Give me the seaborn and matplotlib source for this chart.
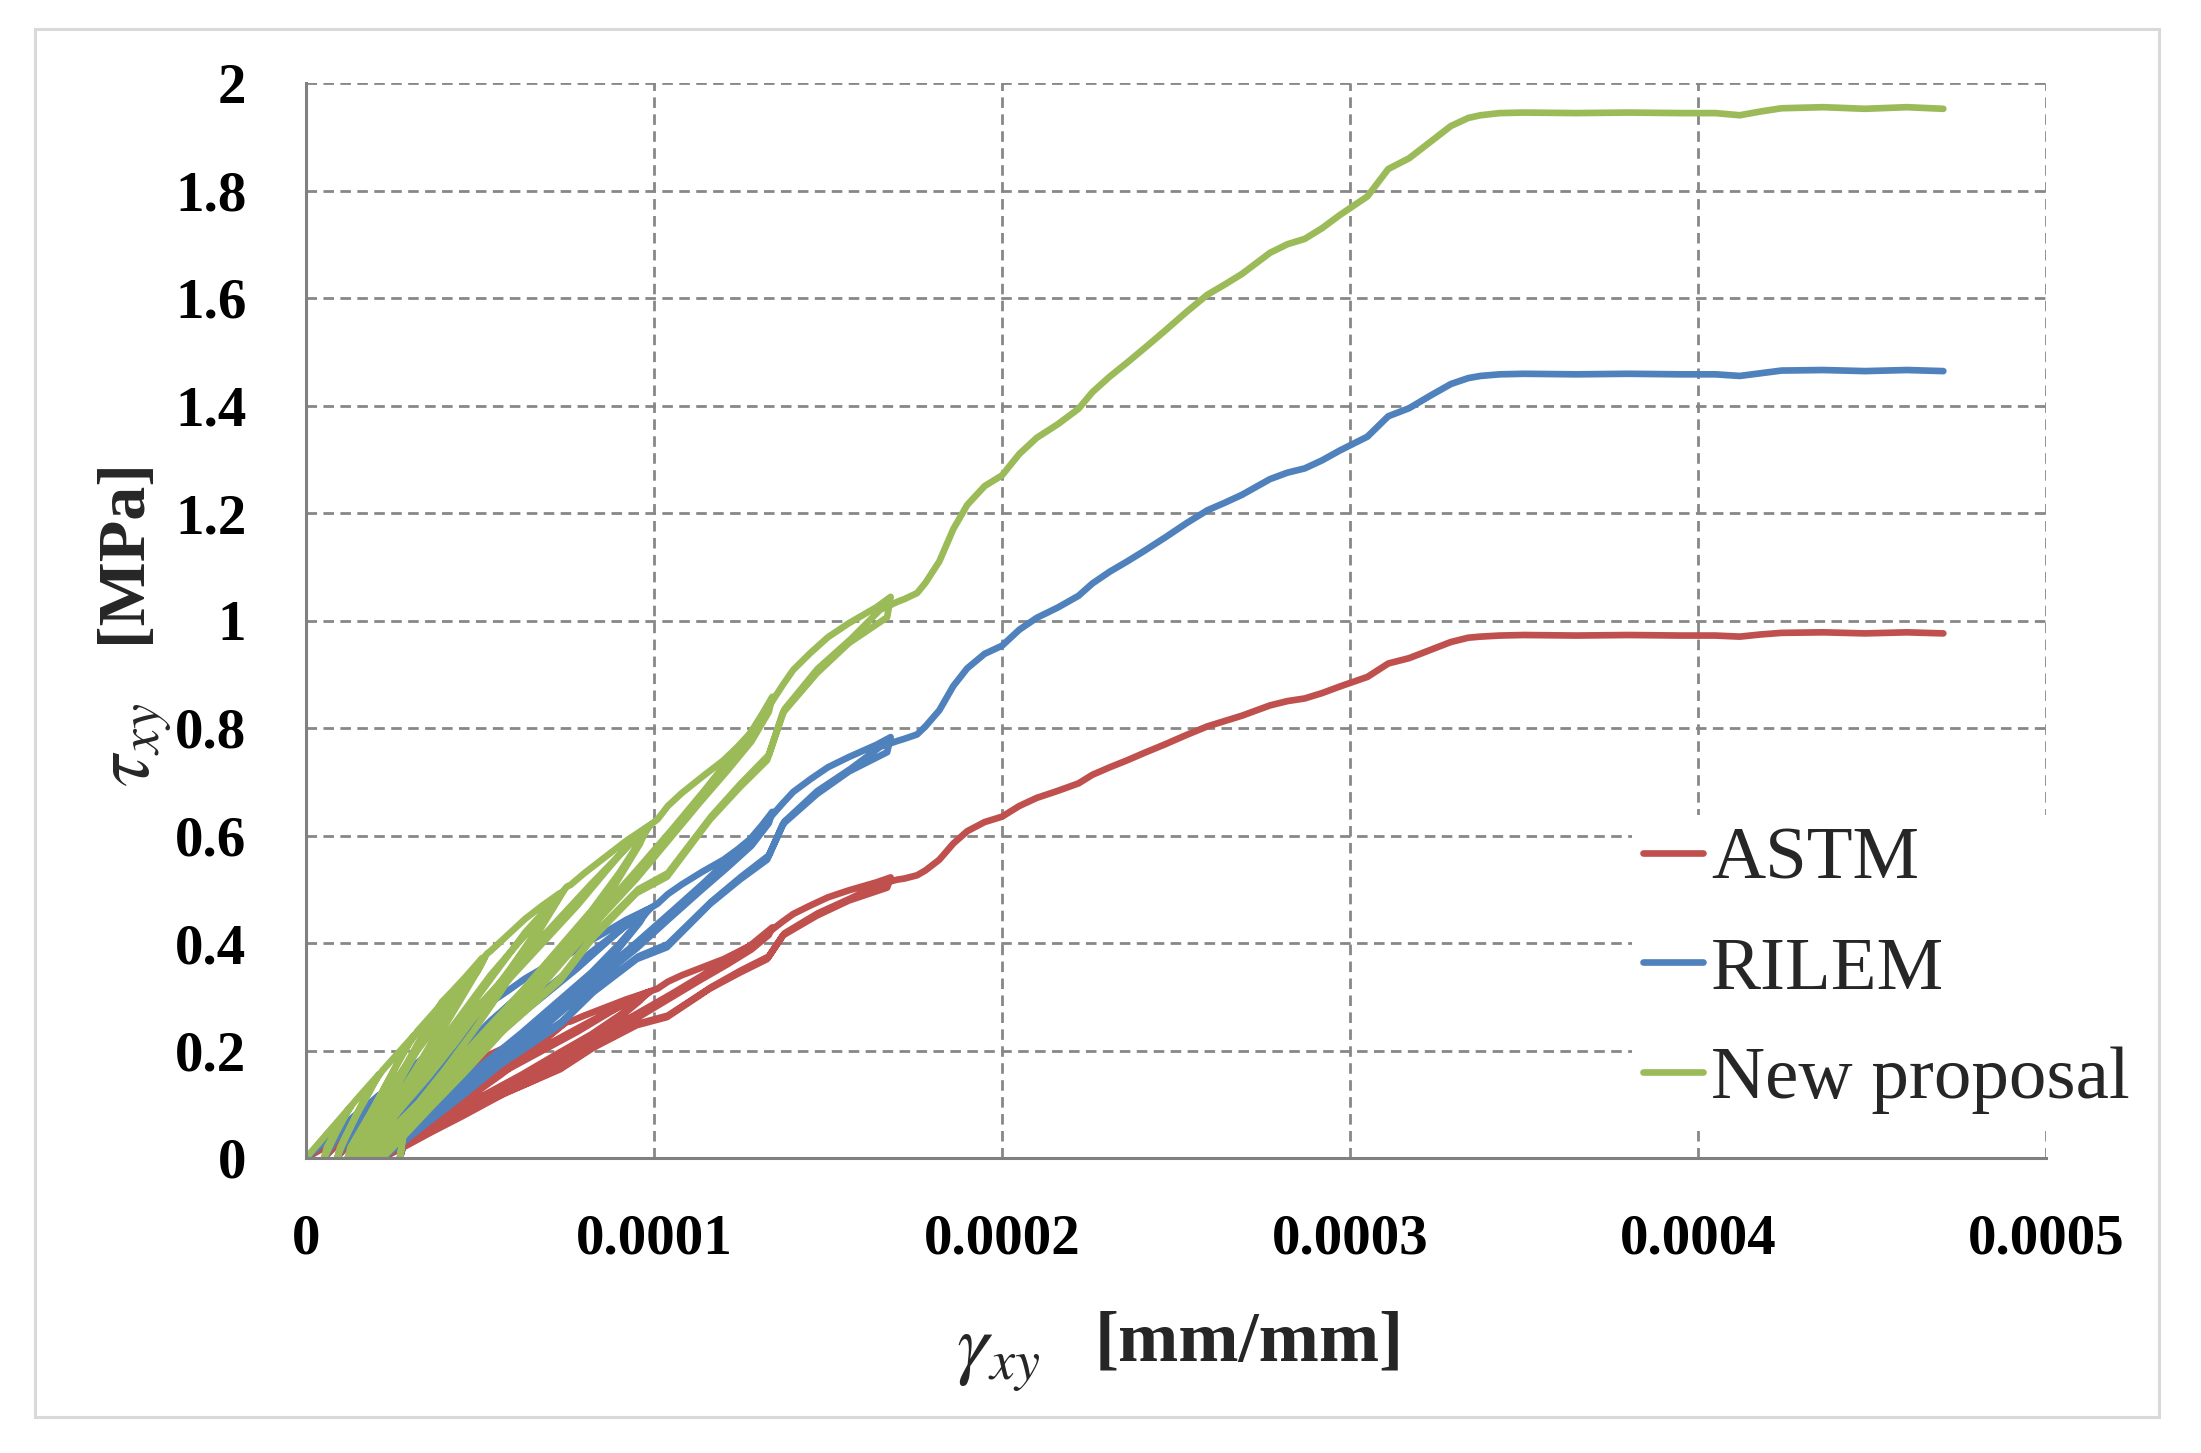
import numpy as np
import pandas as pd
import matplotlib
matplotlib.use('Agg')
import matplotlib.pyplot as plt
import seaborn as sns
from matplotlib.patches import Rectangle
from matplotlib.lines import Line2D

# ---------------- data ----------------
series_names = ['ASTM', 'RILEM', 'New proposal']
series_colors = ['#C0504D', '#4F81BD', '#9BBB59']

# shear strain in micro-strain (x 1e-6 mm/mm), shared by the three series
gamma_ue = [
    0, 6, 13,
    11, 8.5, 6.5, 5.2,
    6, 8.5, 11.5, 14, 17, 21,
    18, 14.5, 11.5, 9.6, 9,
    9.8, 12.5, 16, 19.5, 22, 26, 31,
    27, 22.5, 18, 14, 12,
    12.8, 15.5, 20, 25, 29.5, 32, 36, 41,
    37, 31, 25, 19, 15.5, 14,
    14.8, 17, 22, 28, 34, 39, 42, 46, 50.6,
    49.5, 44, 37, 30, 23, 18, 16,
    16.5, 19, 24, 31, 38, 45, 50, 51.5,
    49, 43, 36, 29, 22, 17, 14.5, 14.2,
    15, 19, 25, 32, 39, 46, 52, 53, 58, 63, 68, 73,
    71, 64, 56, 48, 40, 32, 24, 19, 17.5,
    18, 21, 27, 35, 43, 51, 59, 66, 72, 74,
    70, 63, 55, 47, 39, 31, 24, 18.5, 16.8,
    17.5, 22, 29, 37, 45, 53, 61, 68, 75, 76, 80, 86, 92, 98,
    96, 88, 79, 70, 60, 50, 40, 31, 24, 20,
    20.5, 24, 32, 42, 52, 62, 72, 82, 90, 97, 99,
    95, 87, 78, 68, 58, 48, 38, 29, 22, 18.5, 18.3,
    19, 24, 32, 42, 52, 62, 72, 82, 91, 98, 101, 104, 108, 114, 120, 124, 127.6, 131, 134,
    133, 128, 121, 113, 104, 95, 85, 75, 65, 55, 45, 36, 28, 23.5, 22,
    22.5, 26, 34, 44, 54, 64, 74, 84, 95, 105, 114, 122, 129, 134, 137, 140, 145, 150, 156, 164, 168,
    167, 156, 146.8, 137, 132.5, 124.7, 116, 103.7, 95, 82.5, 73, 63.4, 55.7, 48, 39.5, 32.8, 28, 27,
    28, 33, 40, 48.5, 56, 64, 73.5, 83, 95.5, 104, 116.5, 125, 133, 137.5, 147, 156.5, 165, 170,
    172, 175.6, 178, 182, 186, 190, 195, 200, 205, 210, 216, 222, 226, 231, 236, 241, 247, 253, 259, 264,
    269, 277, 282, 287, 292, 297, 305, 311, 317, 323, 329, 334, 337.5, 343, 350, 365, 380, 395, 405, 412,
    418, 424, 436, 448, 460, 470.5,
]

tau_new = [
    0, 0.045, 0.097,
    0.075, 0.045, 0.018, 0,
    0.02, 0.05, 0.085, 0.105, 0.127, 0.156,
    0.12, 0.08, 0.04, 0.012, 0,
    0.02, 0.055, 0.1, 0.14, 0.163, 0.192, 0.228,
    0.185, 0.13, 0.075, 0.03, 0,
    0.02, 0.05, 0.1, 0.16, 0.212, 0.236, 0.265, 0.302,
    0.26, 0.19, 0.12, 0.055, 0.015, 0,
    0.02, 0.045, 0.1, 0.165, 0.235, 0.29, 0.31, 0.338, 0.372,
    0.35, 0.29, 0.215, 0.14, 0.07, 0.025, 0,
    0.02, 0.045, 0.09, 0.16, 0.235, 0.31, 0.355, 0.375,
    0.345, 0.3, 0.24, 0.175, 0.11, 0.05, 0.01, 0,
    0.03, 0.08, 0.135, 0.2, 0.26, 0.325, 0.38, 0.385, 0.415, 0.445, 0.47, 0.493,
    0.465, 0.39, 0.31, 0.235, 0.165, 0.1, 0.045, 0.012, 0,
    0.02, 0.045, 0.09, 0.15, 0.215, 0.285, 0.355, 0.42, 0.475, 0.497,
    0.47, 0.42, 0.35, 0.28, 0.21, 0.14, 0.075, 0.02, 0,
    0.03, 0.08, 0.135, 0.2, 0.27, 0.34, 0.4, 0.45, 0.505, 0.508, 0.53, 0.56, 0.59, 0.616,
    0.585, 0.5, 0.42, 0.345, 0.27, 0.2, 0.13, 0.07, 0.025, 0,
    0.02, 0.05, 0.1, 0.17, 0.24, 0.31, 0.385, 0.46, 0.53, 0.6, 0.62,
    0.6, 0.54, 0.47, 0.4, 0.33, 0.26, 0.185, 0.11, 0.045, 0.005, 0,
    0.03, 0.08, 0.15, 0.23, 0.3, 0.37, 0.44, 0.51, 0.57, 0.615, 0.63, 0.655, 0.679, 0.71, 0.74, 0.765, 0.79, 0.825, 0.858,
    0.83, 0.775, 0.72, 0.66, 0.59, 0.52, 0.45, 0.375, 0.3, 0.225, 0.155, 0.095, 0.04, 0.01, 0,
    0.02, 0.05, 0.1, 0.17, 0.24, 0.31, 0.385, 0.455, 0.535, 0.61, 0.68, 0.745, 0.8, 0.85, 0.88, 0.908, 0.94, 0.969, 0.995, 1.025, 1.044,
    1.006, 0.958, 0.902, 0.828, 0.74, 0.69, 0.629, 0.523, 0.493, 0.41, 0.33, 0.275, 0.231, 0.188, 0.132, 0.082, 0.045, 0,
    0.05, 0.085, 0.135, 0.192, 0.235, 0.28, 0.338, 0.418, 0.5, 0.53, 0.636, 0.697, 0.75, 0.835, 0.91, 0.965, 1.02, 1.035,
    1.04, 1.051, 1.07, 1.11, 1.17, 1.215, 1.25, 1.27, 1.31, 1.34, 1.365, 1.394, 1.425, 1.454, 1.48, 1.507, 1.54, 1.574, 1.606, 1.625,
    1.645, 1.684, 1.7, 1.71, 1.73, 1.754, 1.789, 1.84, 1.86, 1.89, 1.92, 1.935, 1.94, 1.944, 1.945, 1.944, 1.945, 1.944, 1.944, 1.94,
    1.947, 1.953, 1.955, 1.952, 1.955, 1.952,
]

tau_rilem = [
    0, 0.034, 0.073,
    0.056, 0.034, 0.014, 0,
    0.015, 0.038, 0.064, 0.079, 0.095, 0.117,
    0.09, 0.06, 0.03, 0.009, 0,
    0.015, 0.041, 0.075, 0.105, 0.122, 0.144, 0.171,
    0.139, 0.098, 0.056, 0.023, 0,
    0.015, 0.038, 0.075, 0.12, 0.159, 0.177, 0.199, 0.227,
    0.195, 0.143, 0.09, 0.041, 0.011, 0,
    0.015, 0.034, 0.075, 0.124, 0.176, 0.218, 0.233, 0.254, 0.279,
    0.263, 0.218, 0.161, 0.105, 0.053, 0.019, 0,
    0.015, 0.034, 0.068, 0.12, 0.176, 0.233, 0.266, 0.281,
    0.259, 0.225, 0.18, 0.131, 0.083, 0.038, 0.008, 0,
    0.023, 0.06, 0.101, 0.15, 0.195, 0.244, 0.285, 0.289, 0.311, 0.334, 0.353, 0.37,
    0.349, 0.293, 0.233, 0.176, 0.124, 0.075, 0.034, 0.009, 0,
    0.015, 0.034, 0.068, 0.113, 0.161, 0.214, 0.266, 0.315, 0.356, 0.373,
    0.353, 0.315, 0.263, 0.21, 0.158, 0.105, 0.056, 0.015, 0,
    0.023, 0.06, 0.101, 0.15, 0.203, 0.255, 0.3, 0.338, 0.379, 0.381, 0.398, 0.42, 0.443, 0.462,
    0.439, 0.375, 0.315, 0.259, 0.203, 0.15, 0.098, 0.053, 0.019, 0,
    0.015, 0.038, 0.075, 0.128, 0.18, 0.233, 0.289, 0.345, 0.398, 0.45, 0.465,
    0.45, 0.405, 0.353, 0.3, 0.248, 0.195, 0.139, 0.083, 0.034, 0.004, 0,
    0.023, 0.06, 0.113, 0.173, 0.225, 0.278, 0.33, 0.383, 0.428, 0.461, 0.473, 0.491, 0.509, 0.533, 0.555, 0.574, 0.593, 0.619, 0.644,
    0.623, 0.581, 0.54, 0.495, 0.443, 0.39, 0.338, 0.281, 0.225, 0.169, 0.116, 0.071, 0.03, 0.008, 0,
    0.015, 0.038, 0.075, 0.128, 0.18, 0.233, 0.289, 0.341, 0.401, 0.458, 0.51, 0.559, 0.6, 0.638, 0.66, 0.681, 0.705, 0.727, 0.746, 0.769, 0.783,
    0.755, 0.719, 0.677, 0.621, 0.555, 0.518, 0.472, 0.392, 0.37, 0.308, 0.248, 0.206, 0.173, 0.141, 0.099, 0.062, 0.034, 0,
    0.038, 0.064, 0.101, 0.144, 0.176, 0.21, 0.254, 0.314, 0.375, 0.398, 0.477, 0.523, 0.563, 0.626, 0.683, 0.724, 0.765, 0.776,
    0.78, 0.788, 0.803, 0.833, 0.878, 0.911, 0.938, 0.953, 0.983, 1.005, 1.024, 1.046, 1.069, 1.091, 1.11, 1.13, 1.155, 1.181, 1.205, 1.219,
    1.234, 1.263, 1.275, 1.283, 1.298, 1.316, 1.342, 1.38, 1.395, 1.418, 1.44, 1.451, 1.455, 1.458, 1.459, 1.458, 1.459, 1.458, 1.458, 1.455,
    1.46, 1.465, 1.466, 1.464, 1.466, 1.464,
]

tau_astm = [
    0, 0.022, 0.049,
    0.038, 0.022, 0.009, 0,
    0.01, 0.025, 0.042, 0.052, 0.064, 0.078,
    0.06, 0.04, 0.02, 0.006, 0,
    0.01, 0.028, 0.05, 0.07, 0.082, 0.096, 0.114,
    0.093, 0.065, 0.038, 0.015, 0,
    0.01, 0.025, 0.05, 0.08, 0.106, 0.118, 0.133, 0.151,
    0.13, 0.095, 0.06, 0.028, 0.008, 0,
    0.01, 0.022, 0.05, 0.083, 0.118, 0.145, 0.155, 0.169, 0.186,
    0.175, 0.145, 0.108, 0.07, 0.035, 0.012, 0,
    0.01, 0.022, 0.045, 0.08, 0.118, 0.155, 0.178, 0.188,
    0.173, 0.15, 0.12, 0.088, 0.055, 0.025, 0.005, 0,
    0.015, 0.04, 0.068, 0.1, 0.13, 0.163, 0.19, 0.193, 0.208, 0.223, 0.235, 0.247,
    0.233, 0.195, 0.155, 0.118, 0.083, 0.05, 0.022, 0.006, 0,
    0.01, 0.022, 0.045, 0.075, 0.108, 0.143, 0.178, 0.21, 0.238, 0.249,
    0.235, 0.21, 0.175, 0.14, 0.105, 0.07, 0.038, 0.01, 0,
    0.015, 0.04, 0.068, 0.1, 0.135, 0.17, 0.2, 0.225, 0.253, 0.254, 0.265, 0.28, 0.295, 0.308,
    0.293, 0.25, 0.21, 0.173, 0.135, 0.1, 0.065, 0.035, 0.012, 0,
    0.01, 0.025, 0.05, 0.085, 0.12, 0.155, 0.193, 0.23, 0.265, 0.3, 0.31,
    0.3, 0.27, 0.235, 0.2, 0.165, 0.13, 0.093, 0.055, 0.023, 0.003, 0,
    0.015, 0.04, 0.075, 0.115, 0.15, 0.185, 0.22, 0.255, 0.285, 0.308, 0.315, 0.328, 0.34, 0.355, 0.37, 0.383, 0.395, 0.413, 0.429,
    0.415, 0.388, 0.36, 0.33, 0.295, 0.26, 0.225, 0.188, 0.15, 0.113, 0.078, 0.048, 0.02, 0.005, 0,
    0.01, 0.025, 0.05, 0.085, 0.12, 0.155, 0.193, 0.228, 0.268, 0.305, 0.34, 0.373, 0.4, 0.425, 0.44, 0.454, 0.47, 0.485, 0.498, 0.513, 0.522,
    0.503, 0.479, 0.451, 0.414, 0.37, 0.345, 0.315, 0.262, 0.247, 0.205, 0.165, 0.138, 0.116, 0.094, 0.066, 0.041, 0.023, 0,
    0.025, 0.043, 0.068, 0.096, 0.118, 0.14, 0.169, 0.209, 0.25, 0.265, 0.318, 0.349, 0.375, 0.418, 0.455, 0.483, 0.51, 0.518,
    0.52, 0.526, 0.535, 0.555, 0.585, 0.608, 0.625, 0.635, 0.655, 0.67, 0.683, 0.697, 0.713, 0.727, 0.74, 0.754, 0.77, 0.787, 0.803, 0.813,
    0.823, 0.842, 0.85, 0.855, 0.865, 0.877, 0.895, 0.92, 0.93, 0.945, 0.96, 0.968, 0.97, 0.972, 0.973, 0.972, 0.973, 0.972, 0.972, 0.97,
    0.974, 0.977, 0.978, 0.976, 0.978, 0.976,
]

x_ticks = [0, 0.0001, 0.0002, 0.0003, 0.0004, 0.0005]
x_tick_labels = ['0', '0.0001', '0.0002', '0.0003', '0.0004', '0.0005']
y_ticks = [0, 0.2, 0.4, 0.6, 0.8, 1.0, 1.2, 1.4, 1.6, 1.8, 2.0]
y_tick_labels = ['0', '0.2', '0.4', '0.6', '0.8', '1', '1.2', '1.4', '1.6', '1.8', '2']

x_symbol, x_unit = r'$\gamma_{xy}$', '[mm/mm]'
y_symbol, y_unit = r'$\tau_{xy}$', '[MPa]'

# ---------------- style ----------------
sns.set_style('white')
plt.rcParams['font.family'] = ['Liberation Serif', 'DejaVu Serif']
plt.rcParams['mathtext.fontset'] = 'stix'

W, H = 2201, 1453
fig = plt.figure(figsize=(W / 100, H / 100), dpi=100)
fig.patch.set_facecolor('white')

ax_left, ax_right, ax_top, ax_bottom = 306, 2046, 83, 1158
ax_w, ax_h = ax_right - ax_left, ax_bottom - ax_top
ax = fig.add_axes([ax_left / W, 1 - ax_bottom / H, ax_w / W, ax_h / H])

def fx(px):   # figure pixel x -> axes fraction
    return (px - ax_left) / ax_w

def fy(py):   # figure pixel y (from top) -> axes fraction
    return (ax_bottom - py) / ax_h

gamma = np.asarray(gamma_ue, dtype=float) * 1e-6
frames = []
for name, tau in zip(series_names, [tau_astm, tau_rilem, tau_new]):
    frames.append(pd.DataFrame({'gamma': gamma, 'tau': tau, 'series': name}))
df = pd.concat(frames, ignore_index=True)

line_w = 4.8
sns.lineplot(data=df, x='gamma', y='tau', hue='series', hue_order=series_names,
             palette=dict(zip(series_names, series_colors)), sort=False,
             estimator=None, lw=line_w, ax=ax, legend=False,
             solid_joinstyle='round', solid_capstyle='round')

ax.set_xlim(0, 0.0005)
ax.set_ylim(0, 2)
ax.set_xticks(x_ticks)
ax.set_xticklabels(x_tick_labels, fontweight='bold')
ax.set_yticks(y_ticks)
ax.set_yticklabels(y_tick_labels, fontweight='bold')

grid_color = '#878787'
ax.grid(True, which='major', linestyle=(0, (3.8, 2.3)), color=grid_color, linewidth=2)
ax.set_axisbelow(True)
for s in ['top', 'right']:
    ax.spines[s].set_visible(False)
for s in ['left', 'bottom']:
    ax.spines[s].set_color('#808080')
    ax.spines[s].set_linewidth(2.2)
    ax.spines[s].set_zorder(3)
ax.tick_params(axis='both', direction='out', length=14, width=2.2, color='#808080',
               labelsize=41, labelcolor='black')
ax.tick_params(axis='x', pad=26)
ax.tick_params(axis='y', pad=29)

# axis titles: unit part as the axis label, symbol part as math text beside it
ax.set_xlabel(x_unit, fontsize=52, fontweight='bold', va='center', ha='center')
ax.xaxis.set_label_coords(fx(1249), fy(1343))
ax.text(fx(1040), fy(1358), x_symbol, transform=ax.transAxes, fontsize=58,
        ha='right', va='center')

ax.set_ylabel(y_unit, fontsize=49, fontweight='bold', va='center', ha='center')
ax.yaxis.set_label_coords(fx(124), fy(551))
ax.text(fx(137), fy(703), y_symbol, transform=ax.transAxes, fontsize=58,
        rotation=90, rotation_mode='anchor', ha='right', va='center')

handles = [Line2D([], [], color=c, lw=line_w, solid_capstyle='round') for c in series_colors]
leg = ax.legend(handles, series_names, loc='upper left',
                bbox_to_anchor=(1632 / W, 1 - 815 / H), bbox_transform=fig.transFigure,
                frameon=True, facecolor='white', edgecolor='none', framealpha=1,
                fancybox=False, fontsize=54, handlelength=0.8, handletextpad=0.1,
                borderpad=0.15, labelspacing=0.55, borderaxespad=0)
leg.set_zorder(10)

fig.patches.append(Rectangle((35 / W, 1 - 1417 / H), (2159 - 35) / W, (1417 - 29) / H,
                             transform=fig.transFigure, fill=False,
                             edgecolor='#D9D9D9', linewidth=2.2))

fig.savefig('out.png', dpi=100, facecolor='white')
